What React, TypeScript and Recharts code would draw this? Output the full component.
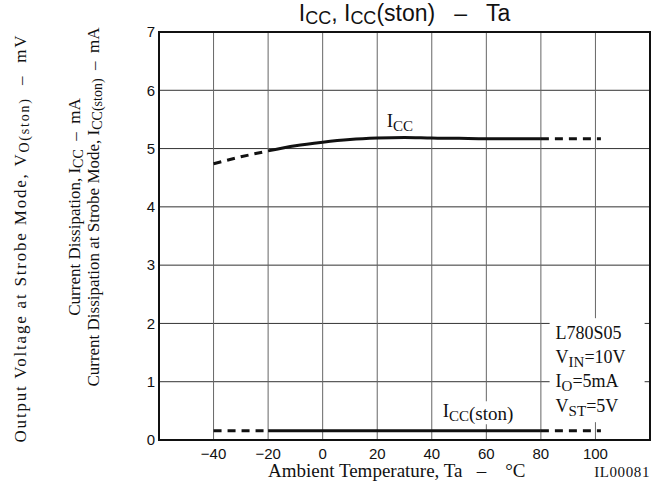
import React from 'react';
import {
  LineChart,
  Line,
  XAxis,
  YAxis,
  CartesianGrid,
  ReferenceArea,
  ReferenceDot
} from 'recharts';

const SERIF = '"Liberation Serif", "Times New Roman", serif';
const SANS = '"Liberation Sans", Arial, sans-serif';
const INK = '#111';

// axis ticks
const xTicks = [-40, -20, 0, 20, 40, 60, 80, 100];
const yTicks = [0, 1, 2, 3, 4, 5, 6, 7];

// ICC (mA) vs Ta, dashed ends are extrapolated
const iccLowT = [-40, -30, -20];
const iccLowV = [4.74, 4.86, 4.96];
const iccMainT = [-20, -10, 0, 10, 20, 30, 40, 50, 60, 70, 80];
const iccMainV = [4.96, 5.05, 5.11, 5.155, 5.18, 5.19, 5.18, 5.175, 5.17, 5.17, 5.17];
const iccHighT = [80, 102];
const iccHighV = [5.17, 5.17];

// ICC(ston) (mA) vs Ta
const stonLowT = [-40, -20];
const stonLowV = [0.16, 0.16];
const stonMainT = [-20, 80];
const stonMainV = [0.16, 0.16];
const stonHighT = [80, 102];
const stonHighV = [0.16, 0.16];

const seg = (t: number[], v: number[]) => t.map((x, i) => ({ t: x, v: v[i] }));

const fmtTick = (v: number) => (v < 0 ? `\u2212${-v}` : `${v}`);
const DASH = '\u00a0\u00a0\u2013\u00a0\u00a0';
const WIDE_DASH = '\u00a0\u00a0\u00a0\u2013\u00a0\u00a0\u00a0\u00a0';

const YTitle = () => (
  <g fontFamily={SERIF} fontSize={17} fill={INK}>
    <text
      transform="translate(20,238) rotate(-90)"
      textAnchor="middle"
      dominantBaseline="central"
      letterSpacing={1.8}
    >
      Output Voltage at Strobe Mode, V
      <tspan dy={4} fontSize={14}>O</tspan>
      <tspan fontSize={14}>(ston)</tspan>
      <tspan dy={-4}>{DASH}mV</tspan>
    </text>
    <text transform="translate(74,207) rotate(-90)" textAnchor="middle" dominantBaseline="central">
      Current Dissipation, I
      <tspan dy={4} fontSize={14}>CC</tspan>
      <tspan dy={-4}>{DASH}mA</tspan>
    </text>
    <text transform="translate(93,207) rotate(-90)" textAnchor="middle" dominantBaseline="central">
      Current Dissipation at Strobe Mode, I
      <tspan dy={4} fontSize={14}>CC</tspan>
      <tspan fontSize={14}>(ston)</tspan>
      <tspan dy={-4}>{DASH}mA</tspan>
    </text>
  </g>
);

const XTitle = () => (
  <g fontFamily={SERIF} fill={INK}>
    <text x={268} y={477} fontSize={19} textAnchor="start">
      Ambient Temperature, Ta{WIDE_DASH}°C
    </text>
    <text x={650} y={477} fontSize={15} textAnchor="end" letterSpacing={0.6}>
      IL00081
    </text>
  </g>
);

const IccTag = (p: any) => (
  <text x={p.cx} y={p.cy} fontFamily={SERIF} fontSize={19} fill={INK}>
    I<tspan dy={4} fontSize={15}>CC</tspan>
  </text>
);

const StonTag = (p: any) => (
  <g>
    <rect x={p.cx - 4} y={p.cy - 16} width={96} height={23} fill="#fff" />
    <text x={p.cx} y={p.cy} fontFamily={SERIF} fontSize={19} fill={INK}>
      I<tspan dy={4} fontSize={15}>CC</tspan>
      <tspan dy={-1}>(ston)</tspan>
    </text>
  </g>
);

const Conditions = (p: any) => (
  <g fontFamily={SERIF} fontSize={18} fill={INK}>
    <rect x={p.cx} y={p.cy} width={95} height={104} fill="#fff" />
    <text x={p.cx + 6} y={p.cy + 21}>L780S05</text>
    <text x={p.cx + 6} y={p.cy + 45}>
      V<tspan dy={4} fontSize={15}>IN</tspan>
      <tspan dy={-4}>=10V</tspan>
    </text>
    <text x={p.cx + 6} y={p.cy + 69}>
      I<tspan dy={4} fontSize={15}>O</tspan>
      <tspan dy={-4}>=5mA</tspan>
    </text>
    <text x={p.cx + 6} y={p.cy + 94}>
      V<tspan dy={4} fontSize={15}>ST</tspan>
      <tspan dy={-4}>=5V</tspan>
    </text>
  </g>
);

export default function App() {
  const lineProps = {
    dataKey: 'v',
    stroke: INK,
    strokeWidth: 3,
    dot: false,
    activeDot: false,
    isAnimationActive: false
  } as const;

  return (
    <div style={{ position: 'absolute', left: 0, top: 0, width: 664, height: 488, background: '#fff' }}>
      <div
        style={{
          position: 'absolute',
          left: 159,
          width: 491,
          top: 0,
          textAlign: 'center',
          fontFamily: SANS,
          fontSize: 23,
          lineHeight: '27px',
          color: INK,
          whiteSpace: 'pre'
        }}
      >
        I<span style={{ fontSize: 18, position: 'relative', top: 3 }}>CC</span>, I
        <span style={{ fontSize: 18, position: 'relative', top: 3 }}>CC</span>(ston)   –   Ta
      </div>
      <LineChart width={664} height={488} margin={{ top: 32, right: 14, left: 0, bottom: 0 }}>
        <CartesianGrid vertical={false} stroke="#333" strokeWidth={1} />
        <CartesianGrid horizontal={false} stroke="#666" strokeWidth={1} />
        <XAxis
          type="number"
          dataKey="t"
          domain={[-60, 120]}
          ticks={xTicks}
          allowDataOverflow
          tickLine={false}
          axisLine={false}
          height={48}
          tick={{ fontSize: 15, fill: INK, fontFamily: SANS }}
          tickFormatter={fmtTick}
          label={<XTitle />}
        />
        <YAxis
          type="number"
          domain={[0, 7]}
          ticks={yTicks}
          allowDataOverflow
          tickLine={false}
          axisLine={false}
          width={159}
          tickSize={4}
          tickMargin={0}
          tick={{ fontSize: 15, fill: INK, fontFamily: SANS }}
          label={<YTitle />}
        />
        <ReferenceArea x1={-60} x2={120} y1={0} y2={7} fill="none" stroke={INK} strokeWidth={2} />
        <Line data={seg(iccLowT, iccLowV)} type="linear" strokeDasharray="8 6" {...lineProps} />
        <Line data={seg(iccMainT, iccMainV)} type="monotone" {...lineProps} />
        <Line data={seg(iccHighT, iccHighV)} type="linear" strokeDasharray="8 6" {...lineProps} />
        <Line data={seg(stonLowT, stonLowV)} type="linear" strokeDasharray="8 6" {...lineProps} />
        <Line data={seg(stonMainT, stonMainV)} type="linear" {...lineProps} />
        <Line data={seg(stonHighT, stonHighV)} type="linear" strokeDasharray="8 6" {...lineProps} />
        <ReferenceDot x={23.5} y={5.37} r={0} ifOverflow="visible" shape={IccTag} />
        <ReferenceDot x={44} y={0.39} r={0} ifOverflow="visible" shape={StonTag} />
        <ReferenceDot x={83.2} y={2.09} r={0} ifOverflow="visible" shape={Conditions} />
      </LineChart>
    </div>
  );
}
